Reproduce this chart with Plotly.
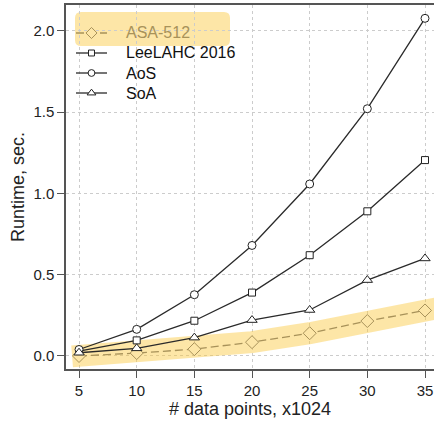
import plotly.graph_objects as go

# ---- data ----
x_points = [5, 10, 15, 20, 25, 30, 35]
asa_512 = [0.0, 0.018, 0.042, 0.085, 0.14, 0.215, 0.28]
leelahc_2016 = [0.03, 0.096, 0.217, 0.39, 0.62, 0.89, 1.205]
aos = [0.04, 0.164, 0.377, 0.68, 1.058, 1.521, 2.077]
soa = [0.02, 0.047, 0.113, 0.221, 0.283, 0.467, 0.60]
series_names = ["ASA-512", "LeeLAHC 2016", "AoS", "SoA"]
x_ticks = [5, 10, 15, 20, 25, 30, 35]
y_ticks = [0.0, 0.5, 1.0, 1.5, 2.0]
y_tick_labels = ["0.0", "0.5", "1.0", "1.5", "2.0"]

FONT = "Liberation Sans, Arial, Helvetica, sans-serif"
BAND = "rgba(250,200,60,0.45)"
BAND_SOLID = "#FDE6A7"
ASA_COL = "#a8925a"
LINE_COL = "#2a2a2a"
AXIS_COL = "#555555"

# plot-area geometry in pixels (for the hand-made R-style legend)
L, R, T, B = 66, 434, 5, 369
W, H = float(R - L), float(B - T)

styles = [
    dict(line=dict(color=ASA_COL, width=1.3, dash="8px,4px"),
         marker=dict(symbol="diamond", size=10, color=BAND_SOLID,
                     line=dict(color=ASA_COL, width=1))),
    dict(line=dict(color=LINE_COL, width=1.3),
         marker=dict(symbol="square", size=7, color="white",
                     line=dict(color="#222", width=1))),
    dict(line=dict(color=LINE_COL, width=1.3),
         marker=dict(symbol="circle", size=8, color="white",
                     line=dict(color="#222", width=1))),
    dict(line=dict(color=LINE_COL, width=1.3),
         marker=dict(symbol="triangle-up", size=9, color="white",
                     line=dict(color="#222", width=1))),
]

fig = go.Figure()

# highlight band along ASA-512 (extended a little beyond first/last points)
ext = 0.6
s0 = (asa_512[1] - asa_512[0]) / (x_points[1] - x_points[0])
s1 = (asa_512[-1] - asa_512[-2]) / (x_points[-1] - x_points[-2])
bx = [x_points[0] - ext] + x_points + [x_points[-1] + ext * 2]
by = [asa_512[0] - s0 * ext] + asa_512 + [asa_512[-1] + s1 * ext * 2]
fig.add_trace(go.Scatter(x=bx, y=by, mode="lines",
                         line=dict(color=BAND, width=22),
                         showlegend=False, hoverinfo="skip"))

for name, vals, st in zip(series_names, [asa_512, leelahc_2016, aos, soa], styles):
    fig.add_trace(go.Scatter(x=x_points, y=vals, mode="lines+markers",
                             name=name, showlegend=False, **st))

# ---- R-style legend drawn on an overlay axis in pixel units ----
row_y = [33, 53, 73, 93]
key_x0, key_x1, key_xm, text_x = 76, 107, 91.5, 124
for name, st, ry in zip(series_names, styles, row_y):
    mk = dict(st["marker"])
    mk["size"] = mk["size"] * 0.85
    fig.add_trace(go.Scatter(x=[key_x0, key_x1], y=[ry, ry], mode="lines",
                             line=st["line"], xaxis="x2", yaxis="y2",
                             showlegend=False, hoverinfo="skip"))
    fig.add_trace(go.Scatter(x=[key_xm], y=[ry], mode="markers",
                             marker=mk, xaxis="x2", yaxis="y2",
                             showlegend=False, hoverinfo="skip"))
    fig.add_annotation(xref="paper", yref="paper",
                       x=(text_x - L) / W, y=(B - ry) / H,
                       xanchor="left", yanchor="middle", showarrow=False,
                       text=name,
                       font=dict(family=FONT, size=16,
                                 color=ASA_COL if name == "ASA-512" else "#111"))

# white legend background (covers grid, below traces)
fig.add_shape(type="rect", xref="paper", yref="paper",
              x0=0.002, x1=(273 - L) / W, y0=(B - 110) / H, y1=(B - 12) / H,
              fillcolor="white", line=dict(width=0), layer="between")

# rounded yellow highlight behind the ASA-512 legend entry
px0, px1 = (75 - L) / W, (230 - L) / W
py0, py1 = (B - 46) / H, (B - 12) / H
rx, ry_ = 6 / W, 6 / H
path = (f"M{px0+rx},{py0} L{px1-rx},{py0} Q{px1},{py0} {px1},{py0+ry_} "
        f"L{px1},{py1-ry_} Q{px1},{py1} {px1-rx},{py1} "
        f"L{px0+rx},{py1} Q{px0},{py1} {px0},{py1-ry_} "
        f"L{px0},{py0+ry_} Q{px0},{py0} {px0+rx},{py0} Z")
fig.add_shape(type="path", xref="paper", yref="paper", path=path,
              fillcolor=BAND, line=dict(width=0), layer="between")

fig.update_layout(
    width=434, height=432,
    margin=dict(l=L, r=434 - R, t=T, b=432 - B, autoexpand=False),
    plot_bgcolor="white", paper_bgcolor="white",
    font=dict(family=FONT, size=15, color="#222"),
    showlegend=False,
    xaxis=dict(range=[3.87, 35.78], tickmode="array", tickvals=x_ticks,
               ticks="outside", ticklen=7, tickcolor=AXIS_COL,
               showline=True, linecolor=AXIS_COL, linewidth=1.5, mirror=True,
               showgrid=True, gridcolor="#cccccc", griddash="dot", gridwidth=1,
               zeroline=False, automargin=False,
               tickfont=dict(size=15, color="#222"),
               title=dict(text="# data points, x1024",
                          font=dict(size=18, color="#222"), standoff=5)),
    yaxis=dict(range=[-0.08, 2.159], tickmode="array", tickvals=y_ticks,
               ticktext=y_tick_labels,
               ticks="outside", ticklen=7, tickcolor=AXIS_COL,
               showline=True, linecolor=AXIS_COL, linewidth=1.5, mirror=False,
               showgrid=True, gridcolor="#cccccc", griddash="dot", gridwidth=1,
               zeroline=False, automargin=False,
               tickfont=dict(size=15, color="#222"),
               title=dict(text="Runtime, sec.",
                          font=dict(size=18, color="#222"), standoff=4)),
    xaxis2=dict(overlaying="x", range=[L, R], visible=False, fixedrange=True),
    yaxis2=dict(overlaying="y", range=[B, T], visible=False, fixedrange=True),
)

fig.write_html("out.html",
               config={"displayModeBar": False},
               post_script="document.body.style.margin='0';"
                           "document.body.style.overflow='hidden';")
